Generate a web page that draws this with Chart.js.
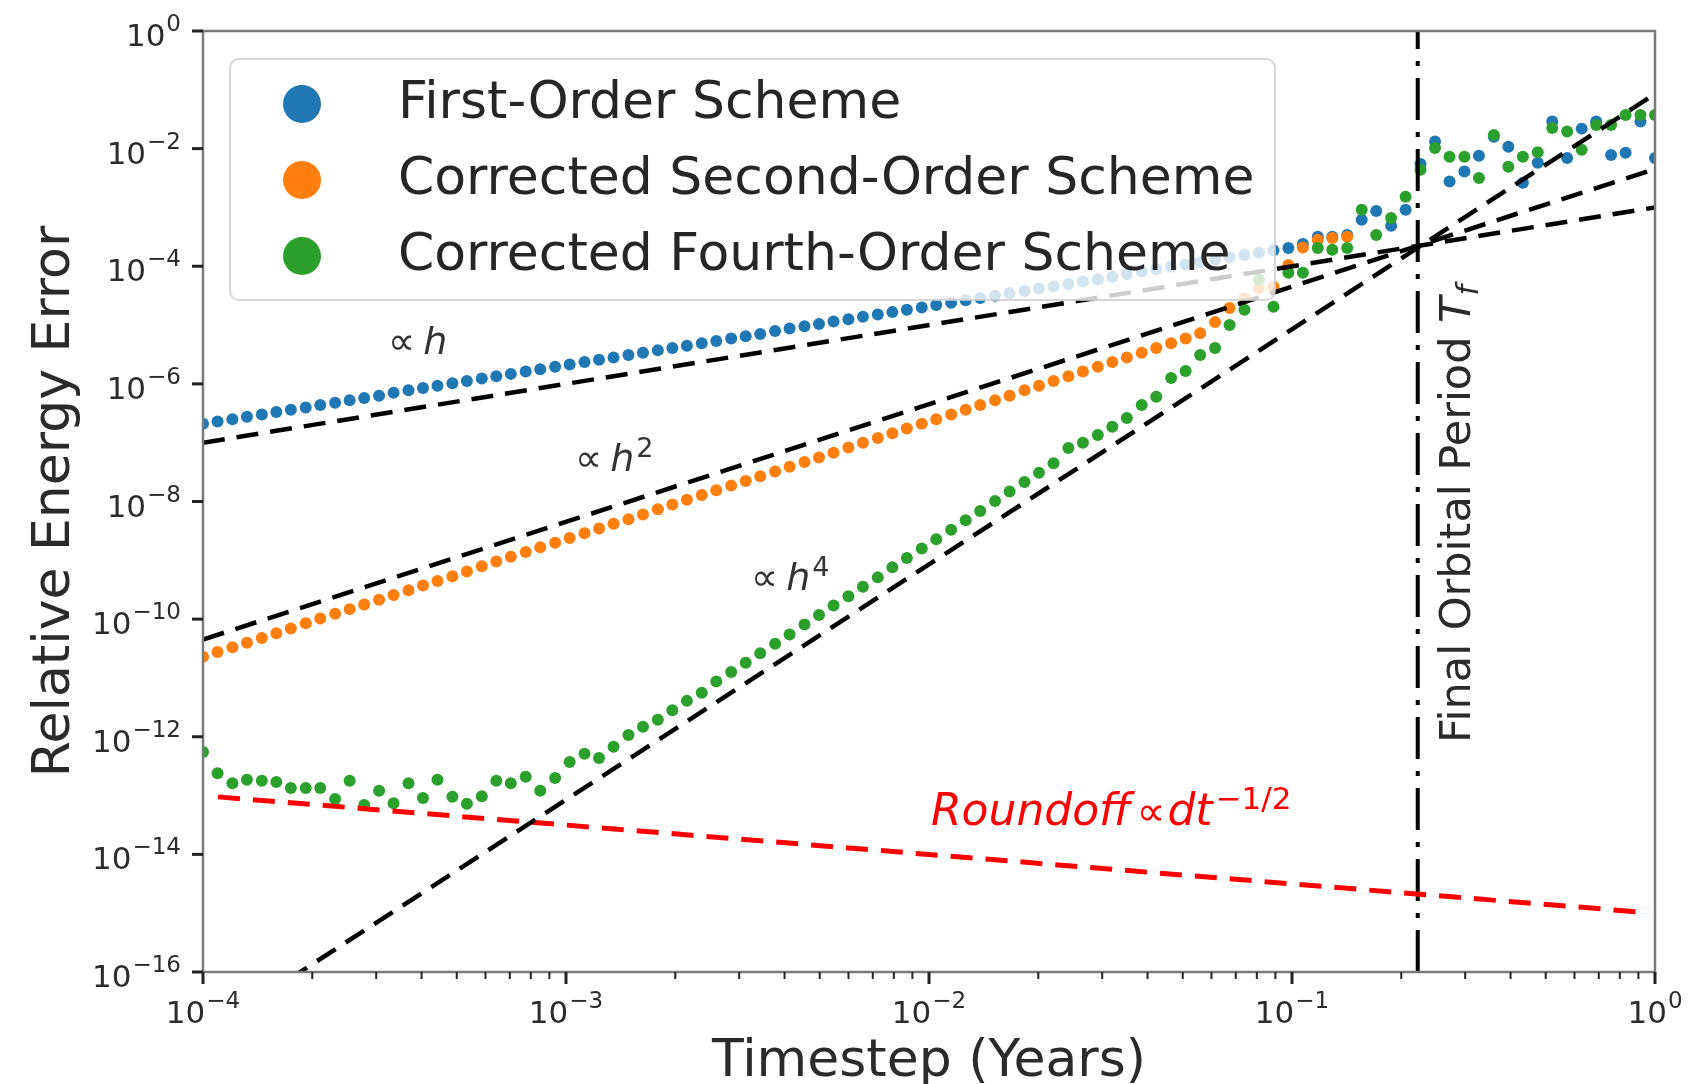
<!DOCTYPE html>
<html>
<head>
<meta charset="utf-8">
<title>Relative energy error vs timestep</title>
<script src="https://cdn.jsdelivr.net/npm/chart.js@4.4.1/dist/chart.umd.min.js"></script>
<style>
  html, body { margin: 0; padding: 0; background: #fff; }
  #wrap { width: 1701px; height: 1084px; }
</style>
</head>
<body>
<div id="wrap"><canvas id="errChart" width="1701" height="1084"></canvas></div>
<script>
// timestep grid (log10 of years)
const stepExp = [
  -4.000, -3.960, -3.919, -3.879, -3.838, -3.798, -3.758, -3.717, -3.677, -3.636,
  -3.596, -3.556, -3.515, -3.475, -3.434, -3.394, -3.354, -3.313, -3.273, -3.232,
  -3.192, -3.152, -3.111, -3.071, -3.030, -2.990, -2.949, -2.909, -2.869, -2.828,
  -2.788, -2.747, -2.707, -2.667, -2.626, -2.586, -2.545, -2.505, -2.465, -2.424,
  -2.384, -2.343, -2.303, -2.263, -2.222, -2.182, -2.141, -2.101, -2.061, -2.020,
  -1.980, -1.939, -1.899, -1.859, -1.818, -1.778, -1.737, -1.697, -1.657, -1.616,
  -1.576, -1.535, -1.495, -1.455, -1.414, -1.374, -1.333, -1.293, -1.253, -1.212,
  -1.172, -1.131, -1.091, -1.051, -1.010, -0.970, -0.929, -0.889, -0.848, -0.808,
  -0.768, -0.727, -0.687, -0.646, -0.606, -0.566, -0.525, -0.485, -0.444, -0.404,
  -0.364, -0.323, -0.283, -0.242, -0.202, -0.162, -0.121, -0.081, -0.040, 0.000
];

// log10 of the relative energy error, one value per timestep
const firstOrderExp = [
  -6.68, -6.64, -6.60, -6.56, -6.52, -6.48, -6.44, -6.40, -6.36, -6.32,
  -6.28, -6.24, -6.20, -6.15, -6.11, -6.07, -6.03, -5.99, -5.95, -5.91,
  -5.87, -5.83, -5.79, -5.75, -5.71, -5.67, -5.63, -5.59, -5.55, -5.51,
  -5.47, -5.43, -5.39, -5.35, -5.31, -5.27, -5.23, -5.19, -5.15, -5.10,
  -5.06, -5.02, -4.98, -4.94, -4.90, -4.86, -4.82, -4.78, -4.74, -4.70,
  -4.66, -4.62, -4.58, -4.54, -4.50, -4.46, -4.42, -4.38, -4.34, -4.30,
  -4.26, -4.22, -4.18, -4.13, -4.09, -4.05, -4.01, -3.97, -3.93, -3.89,
  -3.85, -3.81, -3.77, -3.73, -3.69, -3.62, -3.50, -3.50, -3.47, -3.21,
  -3.06, -3.31, -3.04, -2.26, -1.88, -2.56, -2.39, -2.12, -1.80, -1.97,
  -2.58, -2.24, -1.54, -2.16, -1.66, -1.54, -2.11, -2.07, -1.54, -2.16
];
const secondOrderExp = [
  -10.64, -10.56, -10.48, -10.40, -10.32, -10.24, -10.16, -10.07, -9.99, -9.91,
  -9.83, -9.75, -9.67, -9.59, -9.51, -9.43, -9.35, -9.27, -9.19, -9.10,
  -9.02, -8.94, -8.86, -8.78, -8.70, -8.62, -8.54, -8.46, -8.38, -8.30,
  -8.22, -8.13, -8.05, -7.97, -7.89, -7.81, -7.73, -7.65, -7.57, -7.49,
  -7.41, -7.33, -7.25, -7.17, -7.08, -7.00, -6.92, -6.84, -6.76, -6.68,
  -6.60, -6.52, -6.44, -6.36, -6.28, -6.20, -6.11, -6.03, -5.95, -5.87,
  -5.79, -5.71, -5.63, -5.55, -5.47, -5.39, -5.31, -5.23, -5.14, -4.95,
  -4.71, -4.55, -4.37, -4.35, -3.98, -3.68, -3.55, -3.52, -3.50, null,
  null, null, null, null, null, null, null, null, null, null,
  null, null, null, null, null, null, null, null, null, null
];
const fourthOrderExp = [
  -12.26, -12.62, -12.79, -12.73, -12.75, -12.77, -12.87, -12.87, -12.87, -13.06,
  -12.75, -13.16, -12.92, -13.13, -12.79, -13.04, -12.73, -13.02, -13.14, -13.01,
  -12.75, -12.79, -12.68, -12.92, -12.70, -12.43, -12.29, -12.36, -12.17, -11.97,
  -11.83, -11.71, -11.55, -11.39, -11.25, -11.06, -10.90, -10.74, -10.58, -10.42,
  -10.26, -10.09, -9.93, -9.77, -9.61, -9.45, -9.29, -9.12, -8.96, -8.80,
  -8.64, -8.48, -8.32, -8.16, -7.99, -7.83, -7.67, -7.51, -7.35, -7.09,
  -7.00, -6.87, -6.73, -6.58, -6.36, -6.22, -5.90, -5.78, -5.51, -5.39,
  -5.00, -4.74, -4.23, -4.69, -4.11, -4.11, -3.69, -3.72, -3.69, -3.04,
  -3.47, -3.18, -2.82, -2.36, -1.99, -2.14, -2.14, -2.50, -1.77, -2.31,
  -2.14, -2.06, -1.65, -1.71, -2.02, -1.60, -1.60, -1.43, -1.43, -1.43
];

// power-law guides: endpoints in years and the error at each end
const guideX = [1e-4, 1];
const slopeH1 = [1e-7, 1e-3];
const slopeH2 = [4.5e-11, 4.5e-3];
const slopeH4 = [8.5e-18, 8.5e-2];
const roundoffX = [1.1e-4, 0.955];
const roundoffY = [9.5e-14, 1.02e-15];
const finalPeriod = 0.222;

const xTickExp = [-4, -3, -2, -1, 0];
const yTickExp = [0, -2, -4, -6, -8, -10, -12, -14, -16];
const seriesNames = ['First-Order Scheme', 'Corrected Second-Order Scheme', 'Corrected Fourth-Order Scheme'];
const seriesColors = ['#1f77b4', '#ff7f0e', '#2ca02c'];

const FONT = 'DejaVu Sans, sans-serif';
const INK = '#2b2b2b';

function toPoints(exps) {
  const pts = [];
  stepExp.forEach((e, i) => {
    if (exps[i] != null) pts.push({ x: 10 ** e, y: 10 ** exps[i] });
  });
  return pts;
}

function pair(xs, ys) {
  return xs.map((x, i) => ({ x: x, y: ys[i] }));
}

function dots(label, exps, color, order) {
  return {
    label: label, data: toPoints(exps), order: order, clip: 0,
    backgroundColor: color, borderWidth: 0,
    pointRadius: 6, pointHoverRadius: 6, showLine: false
  };
}

function guide(data, color, width, dash) {
  return {
    data: data, order: 0, clip: 0, showLine: true,
    borderColor: color, borderWidth: width, borderDash: dash,
    borderCapStyle: 'butt', pointRadius: 0, pointHoverRadius: 0, fill: false
  };
}

// "10" with a superscript exponent
function powerLabel(ctx, exp, x, y, align) {
  const sup = exp < 0 ? '\u2212' + Math.abs(exp) : String(exp);
  ctx.font = '31px ' + FONT;
  const wBase = ctx.measureText('10').width;
  ctx.font = '23px ' + FONT;
  const wSup = ctx.measureText(sup).width;
  let left;
  if (align === 'right') left = x - wSup - wBase - 1;
  else left = x - (wBase + wSup + 1) / 2;
  ctx.textAlign = 'left';
  ctx.textBaseline = 'alphabetic';
  ctx.font = '31px ' + FONT;
  ctx.fillText('10', left, y);
  ctx.font = '23px ' + FONT;
  ctx.fillText(sup, left + wBase + 1, y - 15);
}

// draws a run of [text, font, dy, gap] pieces left to right
function runText(ctx, x, y, pieces) {
  ctx.textAlign = 'left';
  ctx.textBaseline = 'alphabetic';
  pieces.forEach(p => {
    ctx.font = p[1];
    ctx.fillText(p[0], x, y + (p[2] || 0));
    x += ctx.measureText(p[0]).width + (p[3] || 0);
  });
}

const decor = {
  id: 'decor',
  afterDatasetsDraw(chart) {
    // legend box sits over the data
    const ctx = chart.ctx;
    ctx.save();
    ctx.beginPath();
    ctx.roundRect(230, 59, 1045, 241, 9);
    ctx.fillStyle = 'rgba(255,255,255,0.8)';
    ctx.fill();
    ctx.lineWidth = 2;
    ctx.strokeStyle = 'rgba(204,204,204,0.8)';
    ctx.stroke();
    seriesNames.forEach((name, i) => {
      const cy = 104 + i * 76;
      ctx.beginPath();
      ctx.arc(302, cy, 19, 0, Math.PI * 2);
      ctx.fillStyle = seriesColors[i];
      ctx.fill();
      ctx.fillStyle = '#262626';
      ctx.font = '52px ' + FONT;
      ctx.textAlign = 'left';
      ctx.textBaseline = 'alphabetic';
      ctx.fillText(name, 398, cy + 14);
    });
    ctx.restore();
  },
  afterDraw(chart) {
    const ctx = chart.ctx;
    const a = chart.chartArea;
    const xs = chart.scales.x, ys = chart.scales.y;
    ctx.save();

    // frame
    ctx.strokeStyle = '#7a7a7a';
    ctx.lineWidth = 2.5;
    ctx.strokeRect(a.left, a.top, a.right - a.left, a.bottom - a.top);

    // ticks
    ctx.strokeStyle = '#222';
    ctx.fillStyle = INK;
    yTickExp.forEach(e => {
      const py = ys.getPixelForValue(10 ** e);
      ctx.lineWidth = 3;
      ctx.beginPath();
      ctx.moveTo(a.left - 11, py);
      ctx.lineTo(a.left, py);
      ctx.stroke();
      powerLabel(ctx, e, 181, py + 15, 'right');
    });
    xTickExp.forEach(e => {
      const px = xs.getPixelForValue(10 ** e);
      ctx.lineWidth = 3;
      ctx.beginPath();
      ctx.moveTo(px, a.bottom);
      ctx.lineTo(px, a.bottom + 12);
      ctx.stroke();
      powerLabel(ctx, e, px, 1023, 'center');
      if (e < 0) {
        ctx.lineWidth = 2;
        for (let m = 2; m <= 9; m++) {
          const mx = xs.getPixelForValue(m * 10 ** e);
          ctx.beginPath();
          ctx.moveTo(mx, a.bottom);
          ctx.lineTo(mx, a.bottom + 7);
          ctx.stroke();
        }
      }
    });

    // axis titles
    ctx.fillStyle = INK;
    ctx.font = '52px ' + FONT;
    ctx.textAlign = 'center';
    ctx.textBaseline = 'alphabetic';
    ctx.fillText('Timestep (Years)', (a.left + a.right) / 2, 1076);
    ctx.save();
    ctx.translate(69, (a.top + a.bottom) / 2);
    ctx.rotate(-Math.PI / 2);
    ctx.fillText('Relative Energy Error', 0, 0);
    ctx.restore();

    // slope labels
    ctx.fillStyle = '#333';
    const reg = '38px ' + FONT, ita = 'italic 38px ' + FONT, sup = '27px ' + FONT;
    runText(ctx, 388, 354, [['\u221D', reg, 0, 8], ['h', ita]]);
    runText(ctx, 575, 471, [['\u221D', reg, 0, 8], ['h', ita, 0, 2], ['2', sup, -14]]);
    runText(ctx, 751, 590, [['\u221D', reg, 0, 8], ['h', ita, 0, 2], ['4', sup, -14]]);

    ctx.fillStyle = '#ff0000';
    runText(ctx, 931, 825, [
      ['Roundoff', 'italic 44px ' + FONT, 0, 6],
      ['\u221D', '40px ' + FONT, 0, 2],
      ['dt', 'italic 44px ' + FONT, 0, 3],
      ['\u22121/2', '31px ' + FONT, -16]
    ]);

    // label along the final-period marker
    ctx.fillStyle = INK;
    ctx.save();
    ctx.translate(1470, 743);
    ctx.rotate(-Math.PI / 2);
    runText(ctx, 0, 0, [
      ['Final Orbital Period ', '43px ' + FONT],
      ['T', 'italic 43px ' + FONT, 0, 1],
      ['f', 'italic 30px ' + FONT, 8]
    ]);
    ctx.restore();

    ctx.restore();
  }
};

new Chart(document.getElementById('errChart'), {
  type: 'scatter',
  data: {
    datasets: [
      dots(seriesNames[0], firstOrderExp, seriesColors[0], 3),
      dots(seriesNames[1], secondOrderExp, seriesColors[1], 2),
      dots(seriesNames[2], fourthOrderExp, seriesColors[2], 1),
      guide(pair(guideX, slopeH1), '#000', 4.5, [22, 12]),
      guide(pair(guideX, slopeH2), '#000', 4.5, [22, 12]),
      guide(pair(guideX, slopeH4), '#000', 4.5, [22, 12]),
      guide(pair(roundoffX, roundoffY), '#ff0000', 5, [22, 13]),
      guide([{ x: finalPeriod, y: 1e-16 }, { x: finalPeriod, y: 1 }], '#000', 4, [42, 12, 5, 12])
    ]
  },
  options: {
    responsive: false,
    devicePixelRatio: 1,
    animation: false,
    events: [],
    layout: { padding: { left: 203, right: 46, top: 31, bottom: 112 } },
    scales: {
      x: { type: 'logarithmic', min: 1e-4, max: 1, display: false },
      y: { type: 'logarithmic', min: 1e-16, max: 1, display: false }
    },
    plugins: { legend: { display: false }, tooltip: { enabled: false } }
  },
  plugins: [decor]
});
</script>
</body>
</html>
